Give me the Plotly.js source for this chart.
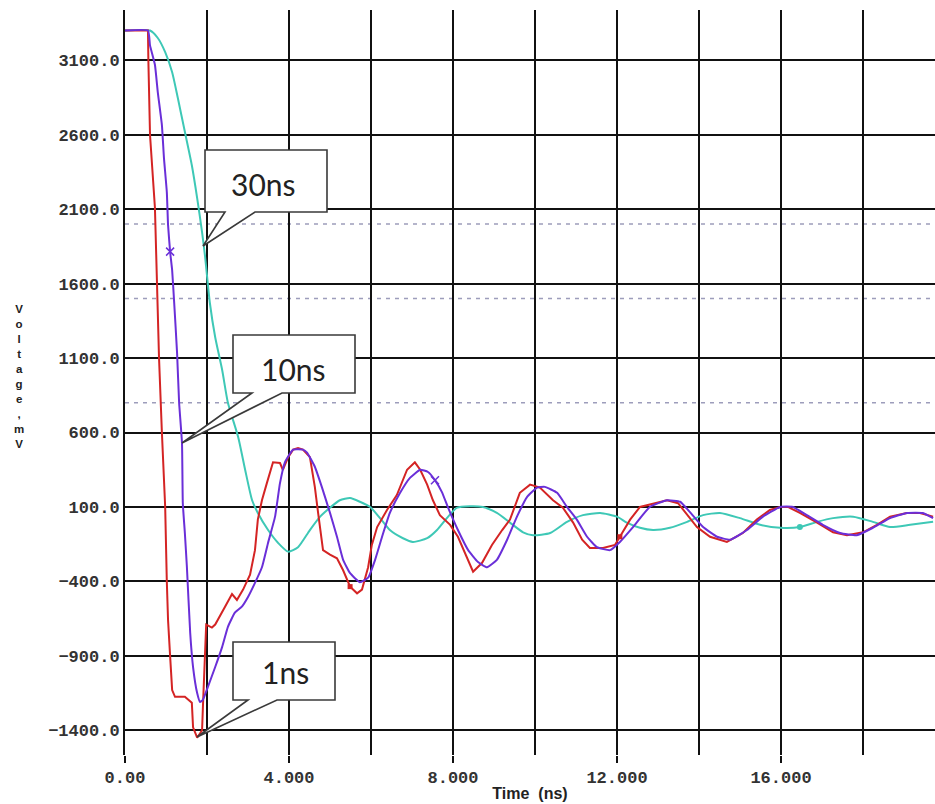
<!DOCTYPE html>
<html><head><meta charset="utf-8">
<script src="https://cdn.plot.ly/plotly-3.0.1.min.js"></script>
<style>html,body{margin:0;padding:0;background:#fff}#chart{width:935px;height:804px}</style>
</head><body><div id="chart"></div>
<script>
// ---- data (time in ns, voltage in mV) ----
const t1ns = [0,0.56,0.57,0.61,0.73,0.78,0.83,0.90,0.98,1.02,1.05,1.10,1.15,1.22,1.46,1.63,1.66,1.76,1.88,1.90,1.98,2.12,2.20,2.44,2.61,2.73,2.88,3.05,3.17,3.24,3.34,3.46,3.61,3.78,3.85,3.98,4.10,4.22,4.34,4.51,4.63,4.71,4.83,5.00,5.17,5.32,5.49,5.66,5.78,5.93,6.02,6.15,6.39,6.63,6.88,7.07,7.20,7.37,7.51,7.68,7.93,8.12,8.34,8.49,8.71,8.95,9.20,9.39,9.63,9.88,10.12,10.44,10.68,10.93,11.15,11.34,11.66,11.95,12.07,12.32,12.56,12.93,13.22,13.49,13.71,13.95,14.27,14.68,15.07,15.41,15.73,15.98,16.17,16.46,16.88,17.27,17.61,18.00,18.34,18.66,19.07,19.39,19.71];
const v1ns = [3300,3300,3100,2600,2110,1600,1100,600,100,-400,-660,-900,-1130,-1175,-1175,-1215,-1380,-1450,-1400,-1245,-690,-710,-690,-570,-485,-525,-455,-355,-190,15,145,260,400,395,350,435,485,495,485,435,235,60,-190,-220,-245,-325,-435,-480,-455,-305,-155,-35,80,180,350,400,350,250,145,45,-20,-100,-235,-335,-275,-155,-55,15,195,250,230,145,95,-5,-120,-175,-175,-155,-100,15,100,125,145,125,45,-35,-100,-135,-75,15,80,100,100,60,-5,-70,-90,-70,-20,35,60,60,35];

const t10ns = [0,0.56,0.61,0.73,0.80,0.90,0.95,1.02,1.05,1.10,1.15,1.20,1.27,1.32,1.39,1.41,1.46,1.51,1.59,1.66,1.76,1.83,1.90,2.02,2.20,2.37,2.51,2.68,2.85,3.00,3.17,3.34,3.49,3.66,3.78,3.90,4.10,4.34,4.44,4.63,4.80,5.00,5.17,5.32,5.49,5.73,5.93,6.10,6.27,6.46,6.71,6.95,7.20,7.39,7.56,7.73,7.88,8.12,8.37,8.61,8.83,9.07,9.32,9.56,9.80,10.05,10.24,10.54,10.78,11.02,11.27,11.51,11.83,12.07,12.39,12.80,13.22,13.54,13.78,14.10,14.44,14.76,15.17,15.56,15.98,16.29,16.63,17.02,17.44,17.85,18.24,18.66,19.07,19.46,19.71];
const v10ns = [3300,3300,3200,3070,2885,2665,2445,2215,1995,1815,1690,1470,1135,800,530,125,-75,-305,-745,-975,-1150,-1210,-1195,-1110,-975,-840,-705,-610,-570,-505,-410,-305,-140,35,260,400,485,485,465,370,235,60,-100,-255,-345,-405,-375,-255,-100,60,195,295,350,335,280,200,95,-55,-190,-270,-305,-255,-120,35,165,230,235,195,100,15,-100,-170,-190,-135,-35,100,145,135,65,-35,-100,-120,-55,35,100,100,45,-20,-75,-90,-40,25,60,60,25];

const t30ns = [0,0.61,0.80,0.98,1.15,1.29,1.46,1.63,1.76,1.88,1.95,2.07,2.20,2.37,2.51,2.76,2.93,3.10,3.24,3.49,3.73,3.98,4.22,4.51,4.76,5.00,5.24,5.49,5.73,5.98,6.22,6.46,6.78,7.02,7.37,7.61,7.85,8.10,8.41,8.73,9.07,9.39,9.71,9.95,10.37,10.78,11.17,11.59,12.00,12.24,12.56,12.88,13.29,13.71,14.10,14.51,15.00,15.49,15.98,16.46,16.88,17.27,17.76,18.24,18.66,19.15,19.71];
const v30ns = [3300,3300,3250,3155,3020,2845,2620,2395,2175,1945,1790,1470,1240,1020,800,570,350,145,60,-55,-140,-200,-170,-55,35,95,145,160,135,100,25,-55,-110,-135,-110,-55,25,95,105,100,60,-5,-70,-90,-75,0,45,60,35,-5,-40,-55,-40,0,45,60,25,-20,-40,-35,0,25,35,0,-35,-20,0];

// times (ns) at which the simulator drew its small trace markers
const mark1ns = [5.49, 12.07];
const mark10ns = [1.10, 7.56];
const mark30ns = [16.46];

const thresholds = [2000, 1500, 800];           // dotted reference levels (mV)
const xTickVals = [0, 4, 8, 12, 16];
const xTickText = ['0.00', '4.000', '8.000', '12.000', '16.000'];
const yTitleChars = ['V','o','l','t','a','g','e',',','m','V'];
const callouts = ['30ns', '10ns', '1ns'];

// ---- layout helpers (page pixels -> paper coords) ----
const W = 935, H = 804, ML = 125, MR = 0, MT = 10, MB = 49;
const PW = W - ML - MR, PH = H - MT - MB;
const px = x => (x - ML) / PW;
const py = y => (H - MB - y) / PH;
const pathFrom = pts => 'M ' + pts.map(p => px(p[0]).toFixed(5) + ',' + py(p[1]).toFixed(5)).join(' L ') + ' Z';

const calloutGeom = [
  {pts: [[205,150],[327,150],[327,212],[255,212],[203,246],[225,212],[205,212]], tx: 263, ty: 184},
  {pts: [[233,335],[355,335],[355,393],[282,393],[182,443],[252,393],[233,393]], tx: 293, ty: 369},
  {pts: [[233,642],[335,642],[335,700],[277,700],[197,737],[248,700],[233,700]], tx: 285, ty: 672}
];

const pick = (ts, vs, marks) => ({x: marks, y: marks.map(m => vs[ts.indexOf(m)])});
const m1 = pick(t1ns, v1ns, mark1ns), m10 = pick(t10ns, v10ns, mark10ns), m30 = pick(t30ns, v30ns, mark30ns);

const RED = '#d42424', PURPLE = '#6a2fd8', CYAN = '#3ec8b6';
const traces = [
  {x: t30ns, y: v30ns, mode: 'lines', line: {color: CYAN, width: 2, shape: 'spline', smoothing: 0.6}, name: '30ns'},
  {x: t1ns, y: v1ns, mode: 'lines', line: {color: RED, width: 2}, name: '1ns'},
  {x: t10ns, y: v10ns, mode: 'lines', line: {color: PURPLE, width: 2, shape: 'spline', smoothing: 0.4}, name: '10ns'},
  {x: m30.x, y: m30.y, mode: 'markers', marker: {symbol: 'circle', size: 6, color: CYAN}},
  {x: m1.x, y: m1.y, mode: 'markers', marker: {symbol: 'square', size: 5, color: RED}},
  {x: m10.x, y: m10.y, mode: 'markers', marker: {symbol: 'x-thin-open', size: 8, color: PURPLE, line: {width: 1.5, color: PURPLE}}}
];

const shapes = thresholds.map(v => ({
  type: 'line', xref: 'paper', x0: 0, x1: 1, yref: 'y', y0: v, y1: v,
  line: {color: '#9d9dbb', width: 1.5, dash: '4px,5px'}, layer: 'between'
}));
calloutGeom.forEach(c => shapes.push({
  type: 'path', xref: 'paper', yref: 'paper', path: pathFrom(c.pts),
  fillcolor: '#ffffff', line: {color: '#3a3a3a', width: 1.6}, layer: 'above'
}));

const annotations = [];
calloutGeom.forEach((c, i) => annotations.push({
  xref: 'paper', yref: 'paper', x: px(c.tx), y: py(c.ty), text: callouts[i], showarrow: false,
  xanchor: 'center', yanchor: 'middle',
  font: {family: 'Lato, "Open Sans", sans-serif', size: 30, color: '#222'}
}));
// stacked y-axis title
annotations.push({
  xref: 'paper', yref: 'paper', x: px(19), y: py(376), text: yTitleChars.join('<br>'), showarrow: false,
  xanchor: 'center', yanchor: 'middle', align: 'center',
  font: {family: '"Liberation Sans", Arial, sans-serif', size: 11.5, weight: 'bold', color: '#222'}
});

const monoFont = {family: '"Liberation Mono", "Courier New", monospace', size: 17, weight: 'bold', color: '#333'};

const layout = {
  width: W, height: H,
  margin: {l: ML, r: MR, t: MT, b: MB},
  paper_bgcolor: '#fff', plot_bgcolor: '#fff',
  showlegend: false,
  xaxis: {
    range: [0, 19.756], tickmode: 'array', tickvals: xTickVals, ticktext: xTickText,
    ticks: 'outside', ticklen: 7, tickwidth: 2, tickcolor: '#111',
    showgrid: true, gridcolor: '#111', gridwidth: 2, zeroline: false, showline: false,
    minor: {tickmode: 'linear', tick0: 0, dtick: 2, showgrid: true, gridcolor: '#111', gridwidth: 2, ticks: ''},
    tickfont: monoFont,
    title: {text: 'Time  (ns)', standoff: 0, font: {family: '"Liberation Sans", Arial, sans-serif', size: 16, weight: 'bold', color: '#222'}},
    automargin: false
  },
  yaxis: {
    range: [-1566, 3438], tick0: 100, dtick: 500, tickformat: '.1f',
    ticks: '', showgrid: true, gridcolor: '#111', gridwidth: 2, zeroline: false,
    showline: true, linecolor: '#111', linewidth: 2,
    tickfont: monoFont, automargin: false
  },
  shapes: shapes,
  annotations: annotations
};

Plotly.newPlot('chart', traces, layout, {staticPlot: true, displayModeBar: false});
</script>
</body></html>
